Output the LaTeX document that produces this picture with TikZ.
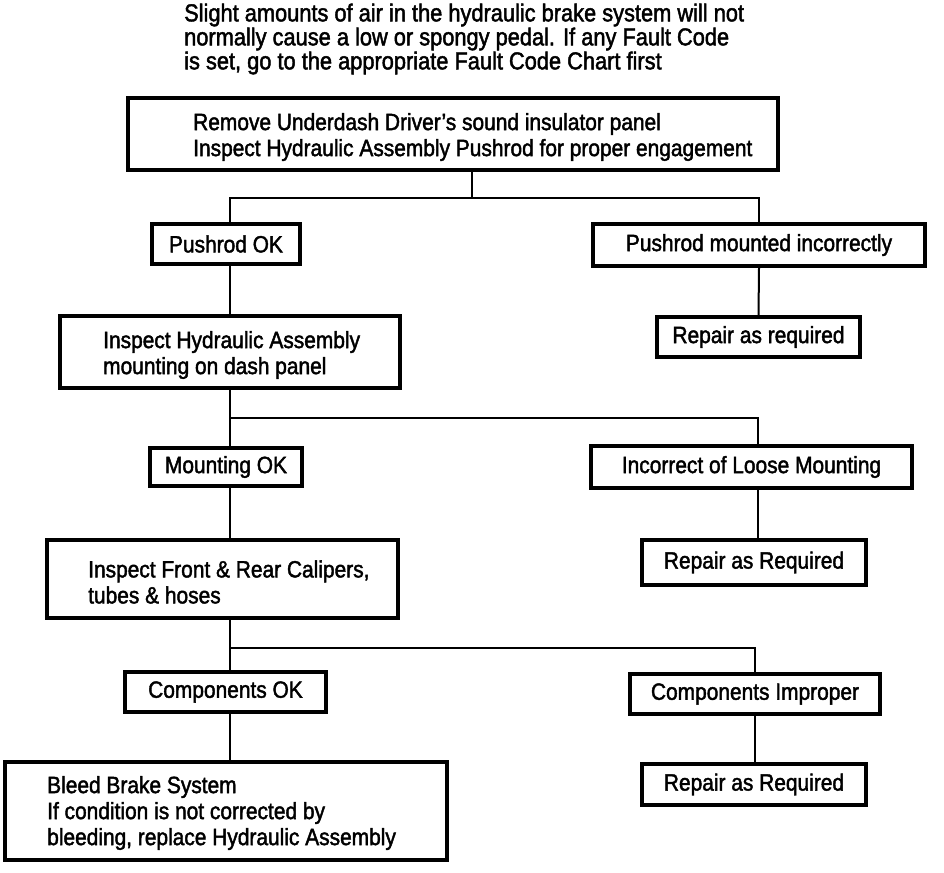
\documentclass[tikz,border=0pt]{standalone}
\usepackage{fontspec}
\setmainfont{Liberation Sans}[FakeStretch=0.89,FakeBold=1.8]
\begin{document}
\begin{tikzpicture}[x=1pt,y=-1pt,
  box/.style={draw,line width=3.2pt,inner sep=0pt},
  conn/.style={line width=2pt},
  txt/.style={font=\fontsize{23.5}{26}\selectfont,inner sep=0pt,align=left}]
\useasboundingbox (0,0) rectangle (944,872);
% intro text
\node[txt,anchor=west,font=\fontsize{24.5}{24}\selectfont] (intro) at (184,39) {Slight amounts of air in the hydraulic brake system will not\\normally cause a low or spongy pedal. If any Fault Code\\is set, go to the appropriate Fault Code Chart first};
% boxes
\node[box,minimum width=650,minimum height=72] (b1) at (453,134) {};
\node[txt,anchor=west] (b1t) at (193,137) {Remove Underdash Driver's sound insulator panel\\Inspect Hydraulic Assembly Pushrod for proper engagement};
\node[box,minimum width=148,minimum height=40,txt] (pok) at (226,244) {Pushrod OK};
\node[box,minimum width=332,minimum height=42,txt] (pbad) at (759,245) {Pushrod mounted incorrectly};
\node[box,minimum width=340,minimum height=72] (b2) at (230,352) {};
\node[txt,anchor=west] (b2t) at (103,355) {Inspect Hydraulic Assembly\\mounting on dash panel};
\node[box,minimum width=203,minimum height=40,txt] (r1) at (758.5,337) {Repair as required};
\node[box,minimum width=152,minimum height=38,txt] (mok) at (226,467) {Mounting OK};
\node[box,minimum width=321,minimum height=42,txt] (mbad) at (751.5,467) {Incorrect of Loose Mounting};
\node[box,minimum width=351,minimum height=78] (b3) at (222.5,579) {};
\node[txt,anchor=west] (b3t) at (88,582) {Inspect Front \& Rear Calipers,\\tubes \& hoses};
\node[box,minimum width=224,minimum height=45,txt] (r2) at (754,562.5) {Repair as Required};
\node[box,minimum width=201,minimum height=40,txt] (cok) at (225.5,692) {Components OK};
\node[box,minimum width=250,minimum height=40,txt] (cbad) at (755,694) {Components Improper};
\node[box,minimum width=442,minimum height=98] (b4) at (226,811) {};
\node[txt,anchor=west] (b4t) at (47,813) {Bleed Brake System\\If condition is not corrected by\\bleeding, replace Hydraulic Assembly};
\node[box,minimum width=224,minimum height=41,txt] (r3) at (754,784.5) {Repair as Required};
% connectors
\coordinate (j1) at (472,198);
\coordinate (j2) at (230,418);
\coordinate (j3) at (230,648);
\draw[conn] (j1 |- b1.south) -- (j1);
\draw[conn] (j1) -| (pok.north -| 230,0);
\draw[conn] (j1) -| (pbad.north);
\draw[conn] (pok.south -| 230,0) -- (b2.north);
\draw[conn] (pbad.south) -- (r1.north);
\draw[conn] (b2.south) -- (j2);
\draw[conn] (j2) -| (mok.north -| 230,0);
\draw[conn] (j2) -| (mbad.north -| 758,0);
\draw[conn] (mok.south -| 230,0) -- (b3.north -| 230,0);
\draw[conn] (mbad.south -| 758,0) -- (r2.north -| 758,0);
\draw[conn] (b3.south -| 230,0) -- (j3);
\draw[conn] (j3) -| (cok.north -| 230,0);
\draw[conn] (j3) -| (cbad.north);
\draw[conn] (cok.south -| 230,0) -- (b4.north -| 230,0);
\draw[conn] (cbad.south) -- (r3.north -| 755,0);
\end{tikzpicture}
\end{document}
